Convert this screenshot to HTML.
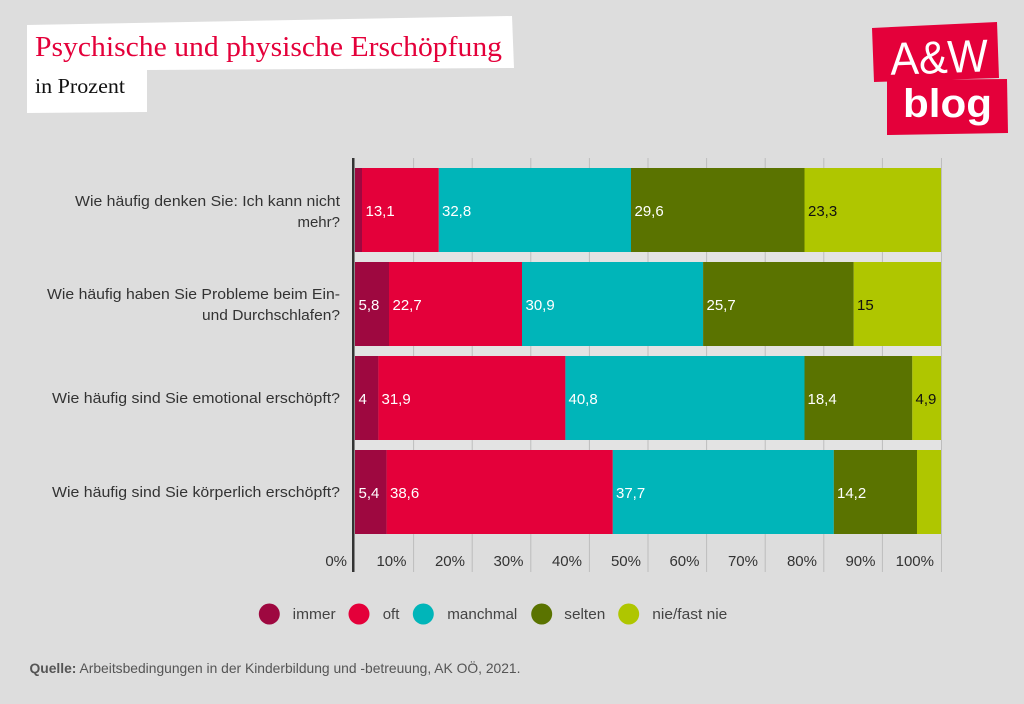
<!DOCTYPE html>
<html><head><meta charset="utf-8"><style>
html,body{margin:0;padding:0;background:#dddddd;}
svg{display:block;}
text{font-family:"Liberation Sans",sans-serif;}
</style></head><body>
<svg width="1024" height="704" viewBox="0 0 1024 704" xmlns="http://www.w3.org/2000/svg">
<rect x="0" y="0" width="1024" height="704" fill="#dddddd"/>
<!-- title box -->
<polygon points="27,25 512,16 514,68 147,70 147,112 27,113" fill="#ffffff"/>
<text x="35" y="56" font-family="Liberation Serif, serif" style="font-family:'Liberation Serif',serif" font-size="28" fill="#e4003a" textLength="467" lengthAdjust="spacingAndGlyphs">Psychische und physische Erschöpfung</text>
<text x="35" y="93" style="font-family:'Liberation Serif',serif" font-size="21" fill="#111" textLength="90" lengthAdjust="spacingAndGlyphs">in Prozent</text>
<!-- logo -->
<polygon points="872,28 997,22 999,78 874,82" fill="#e4003a"/>
<polygon points="887,80 1007,79 1008,133 887,135" fill="#e4003a"/>
<text x="890" y="73" font-size="46" fill="#fff" textLength="98" lengthAdjust="spacingAndGlyphs" transform="rotate(-2 940 55)">A&amp;W</text>
<text x="903" y="117" font-size="40" font-weight="bold" fill="#fff" textLength="89" lengthAdjust="spacingAndGlyphs">blog</text>
<!-- gap strips -->
<g fill="#e3e3e3">
<rect x="355" y="252" width="586" height="10"/>
<rect x="355" y="346" width="586" height="10"/>
<rect x="355" y="440" width="586" height="10"/>
</g>
<!-- gridlines -->
<g stroke="#bdbdbd" stroke-width="1">
<line x1="413.6" y1="158" x2="413.6" y2="572"/>
<line x1="472.2" y1="158" x2="472.2" y2="572"/>
<line x1="530.8" y1="158" x2="530.8" y2="572"/>
<line x1="589.4" y1="158" x2="589.4" y2="572"/>
<line x1="648" y1="158" x2="648" y2="572"/>
<line x1="706.6" y1="158" x2="706.6" y2="572"/>
<line x1="765.2" y1="158" x2="765.2" y2="572"/>
<line x1="823.8" y1="158" x2="823.8" y2="572"/>
<line x1="882.4" y1="158" x2="882.4" y2="572"/>
<line x1="941.5" y1="158" x2="941.5" y2="572"/>
</g>
<!-- bars -->
<g>
<rect x="355" y="168" width="7" height="84" fill="#9e0840"/>
<rect x="362" y="168" width="76.8" height="84" fill="#e4003a"/>
<rect x="438.8" y="168" width="192.2" height="84" fill="#00b5b9"/>
<rect x="631" y="168" width="173.5" height="84" fill="#5a7300"/>
<rect x="804.5" y="168" width="136.5" height="84" fill="#afc600"/>

<rect x="355" y="262" width="34" height="84" fill="#9e0840"/>
<rect x="389" y="262" width="133" height="84" fill="#e4003a"/>
<rect x="522" y="262" width="181.1" height="84" fill="#00b5b9"/>
<rect x="703.1" y="262" width="150.6" height="84" fill="#5a7300"/>
<rect x="853.7" y="262" width="87.3" height="84" fill="#afc600"/>

<rect x="355" y="356" width="23.4" height="84" fill="#9e0840"/>
<rect x="378.4" y="356" width="187" height="84" fill="#e4003a"/>
<rect x="565.4" y="356" width="239.1" height="84" fill="#00b5b9"/>
<rect x="804.5" y="356" width="107.8" height="84" fill="#5a7300"/>
<rect x="912.3" y="356" width="28.7" height="84" fill="#afc600"/>

<rect x="355" y="450" width="31.6" height="84" fill="#9e0840"/>
<rect x="386.6" y="450" width="226.2" height="84" fill="#e4003a"/>
<rect x="612.8" y="450" width="221" height="84" fill="#00b5b9"/>
<rect x="833.8" y="450" width="83.2" height="84" fill="#5a7300"/>
<rect x="917" y="450" width="24" height="84" fill="#afc600"/>
</g>
<!-- axis -->
<rect x="352" y="158" width="2.5" height="414" fill="#333"/>
<!-- bar labels -->
<g font-size="15" fill="#fff">
<text x="365.5" y="216">13,1</text>
<text x="442" y="216">32,8</text>
<text x="634.5" y="216">29,6</text>
<text x="808" y="216" fill="#111">23,3</text>

<text x="358.5" y="310">5,8</text>
<text x="392.5" y="310">22,7</text>
<text x="525.5" y="310">30,9</text>
<text x="706.5" y="310">25,7</text>
<text x="857" y="310" fill="#111">15</text>

<text x="358.5" y="404">4</text>
<text x="381.5" y="404">31,9</text>
<text x="568.5" y="404">40,8</text>
<text x="807.5" y="404">18,4</text>
<text x="915.5" y="404" fill="#111">4,9</text>

<text x="358.5" y="498">5,4</text>
<text x="390" y="498">38,6</text>
<text x="616" y="498">37,7</text>
<text x="837" y="498">14,2</text>
</g>
<!-- category labels -->
<g font-size="15" fill="#333" text-anchor="end">
<text x="340" y="206" textLength="265" lengthAdjust="spacingAndGlyphs">Wie häufig denken Sie: Ich kann nicht</text>
<text x="340" y="227">mehr?</text>
<text x="340" y="299" textLength="293" lengthAdjust="spacingAndGlyphs">Wie häufig haben Sie Probleme beim Ein-</text>
<text x="340" y="320" textLength="138" lengthAdjust="spacingAndGlyphs">und Durchschlafen?</text>
<text x="340" y="403" textLength="288" lengthAdjust="spacingAndGlyphs">Wie häufig sind Sie emotional erschöpft?</text>
<text x="340" y="497" textLength="288" lengthAdjust="spacingAndGlyphs">Wie häufig sind Sie körperlich erschöpft?</text>
</g>
<!-- x axis labels -->
<g font-size="15" fill="#333" text-anchor="end">
<text x="347" y="566">0%</text>
<text x="406.5" y="566">10%</text>
<text x="465" y="566">20%</text>
<text x="523.5" y="566">30%</text>
<text x="582" y="566">40%</text>
<text x="641" y="566">50%</text>
<text x="699.5" y="566">60%</text>
<text x="758" y="566">70%</text>
<text x="817" y="566">80%</text>
<text x="875.5" y="566">90%</text>
<text x="934" y="566">100%</text>
</g>
<!-- legend -->
<g>
<circle cx="269.3" cy="614" r="10.5" fill="#9e0840"/>
<circle cx="359" cy="614" r="10.5" fill="#e4003a"/>
<circle cx="423.3" cy="614" r="10.5" fill="#00b5b9"/>
<circle cx="541.7" cy="614" r="10.5" fill="#5a7300"/>
<circle cx="628.7" cy="614" r="10.5" fill="#afc600"/>
</g>
<g font-size="15" fill="#444">
<text x="292.7" y="619" textLength="43" lengthAdjust="spacingAndGlyphs">immer</text>
<text x="382.7" y="619">oft</text>
<text x="447.3" y="619" textLength="70" lengthAdjust="spacingAndGlyphs">manchmal</text>
<text x="564.3" y="619" textLength="41" lengthAdjust="spacingAndGlyphs">selten</text>
<text x="652.3" y="619" textLength="75" lengthAdjust="spacingAndGlyphs">nie/fast nie</text>
</g>
<!-- source -->
<text x="29.5" y="673" font-size="14" fill="#555" textLength="491" lengthAdjust="spacingAndGlyphs"><tspan font-weight="bold">Quelle:</tspan> Arbeitsbedingungen in der Kinderbildung und -betreuung, AK OÖ, 2021.</text>
</svg>
</body></html>
